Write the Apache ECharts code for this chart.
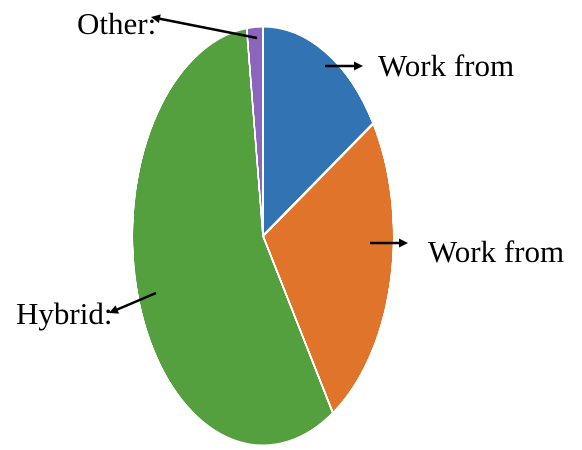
<!DOCTYPE html>
<html>
<head>
<meta charset="utf-8">
<script src="https://cdn.jsdelivr.net/npm/echarts@6/dist/echarts.min.js"></script>
<style>
  html, body { margin: 0; padding: 0; background: #fff; }
  #wrap { position: relative; width: 582px; height: 450px; overflow: hidden; }
  #pie, #notes { position: absolute; left: 0; top: 0; width: 582px; height: 450px; }
  /* the pie is drawn round and squeezed horizontally into an upright ellipse */
  #pie { transform-origin: 263px 236px; transform: scaleX(0.622); }
</style>
</head>
<body>
<div id="wrap">
  <div id="pie"></div>
  <div id="notes"></div>
</div>
<script>
// Work arrangements (share of respondents, %)
const categories = ['Work from', 'Work from', 'Hybrid:', 'Other:'];
const shares = [16, 25, 57, 2];
const sliceColors = ['#3273B4', '#E1742B', '#55A03E', '#8B64BC'];

const pieChart = echarts.init(document.getElementById('pie'), null, { devicePixelRatio: 2 });
pieChart.setOption({
  animation: false,
  series: [{
    type: 'pie',
    center: [263, 236],
    radius: [0, 210],
    startAngle: 90,
    clockwise: true,
    silent: true,
    label: { show: false },
    labelLine: { show: false },
    itemStyle: { borderColor: '#ffffff', borderWidth: 3 },
    data: categories.map((name, i) => ({
      name: name,
      value: shares[i],
      itemStyle: { color: sliceColors[i] }
    }))
  }]
});

// callout text and arrows, drawn unstretched on top of the pie
const textFont = { fontFamily: 'Liberation Serif', fontSize: 31, fill: '#000' };

function label(text, x, baseline) {
  return {
    type: 'text',
    x: x,
    y: baseline - 9,
    style: Object.assign({ text: text, textAlign: 'left', textVerticalAlign: 'middle', verticalAlign: 'middle' }, textFont)
  };
}

function arrow(x1, y1, x2, y2) {
  const dx = x2 - x1, dy = y2 - y1;
  const len = Math.sqrt(dx * dx + dy * dy);
  const ux = dx / len, uy = dy / len;
  const head = 9, half = 4.5;
  const bx = x2 - ux * head, by = y2 - uy * head;
  return {
    type: 'group',
    children: [
      { type: 'line', shape: { x1: x1, y1: y1, x2: bx, y2: by }, style: { stroke: '#000', lineWidth: 2.5 } },
      {
        type: 'polygon',
        shape: { points: [[x2, y2], [bx - uy * half, by + ux * half], [bx + uy * half, by - ux * half]] },
        style: { fill: '#000' }
      }
    ]
  };
}

const notes = echarts.init(document.getElementById('notes'), null, { devicePixelRatio: 2 });
notes.setOption({
  animation: false,
  graphic: [
    label(categories[3], 77, 35),
    label(categories[0], 378, 77),
    label(categories[1], 428, 263),
    label(categories[2], 16, 325),
    arrow(257, 38, 151, 17),
    arrow(325, 66, 363, 66),
    arrow(370, 243, 408, 243),
    arrow(156, 293, 109, 313)
  ]
});
</script>
</body>
</html>
